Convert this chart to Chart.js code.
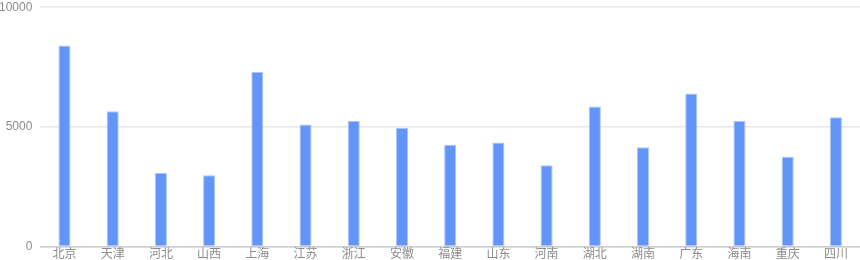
<!DOCTYPE html>
<html>
<head>
<meta charset="utf-8">
<script src="https://cdn.jsdelivr.net/npm/chart.js@4"></script>
<style>
    html, body { margin: 0; padding: 0; background: #fff; overflow: hidden; }
    #wrap { position: relative; width: 869px; height: 271px; margin-left: -9px; margin-top: -8px; }
</style>
</head>
<body>
<div id="wrap"><canvas id="provinceChart"></canvas></div>
<script>
// province values
let provinces = ["北京", "天津", "河北", "山西", "上海", "江苏", "浙江", "安徽", "福建",
    "山东", "河南", "湖北", "湖南", "广东", "海南", "重庆", "四川"];
let values = [8400, 5650, 3070, 2980, 7300, 5100, 5250, 4950, 4250,
    4350, 3400, 5850, 4150, 6400, 5250, 3750, 5400];
let yTicks = [0, 5000, 10000];

Chart.defaults.font.family = "'Liberation Sans', 'Noto Sans CJK SC', sans-serif";

let provinceChart;
drawProvinceChart = () => {
    if (provinceChart != undefined) {
        provinceChart.destroy();
    }
    let ctx = document.getElementById("provinceChart").getContext("2d");
    provinceChart = new Chart(ctx, {
        type: 'bar',
        data: {
            labels: provinces,
            datasets: [{
                data: values,
                backgroundColor: '#6395f9',
                borderColor: 'rgba(160, 190, 252, 0.9)',
                borderWidth: 1,
                barPercentage: 0.25,
                categoryPercentage: 1
            }]
        },
        options: {
            responsive: true,
            maintainAspectRatio: false,
            animation: false,
            plugins: {
                legend: { display: false },
                tooltip: { enabled: false }
            },
            scales: {
                x: {
                    grid: { display: false, drawTicks: false, tickLength: 0 },
                    border: { color: '#cccccc', width: 1.5 },
                    ticks: {
                        color: '#8c8c8c',
                        font: { size: 12 },
                        maxRotation: 0,
                        autoSkip: false,
                        padding: 1
                    }
                },
                y: {
                    min: 0,
                    max: 10000,
                    afterBuildTicks: (axis) => {
                        axis.ticks = yTicks.map((v) => ({ value: v }));
                    },
                    grid: { color: '#e8e8e8', lineWidth: 1.5, drawTicks: false },
                    border: { display: false },
                    ticks: {
                        color: '#8c8c8c',
                        font: { size: 12 },
                        padding: 8,
                        callback: (v) => String(v)
                    }
                }
            }
        }
    });
};

drawProvinceChart();
</script>
</body>
</html>
